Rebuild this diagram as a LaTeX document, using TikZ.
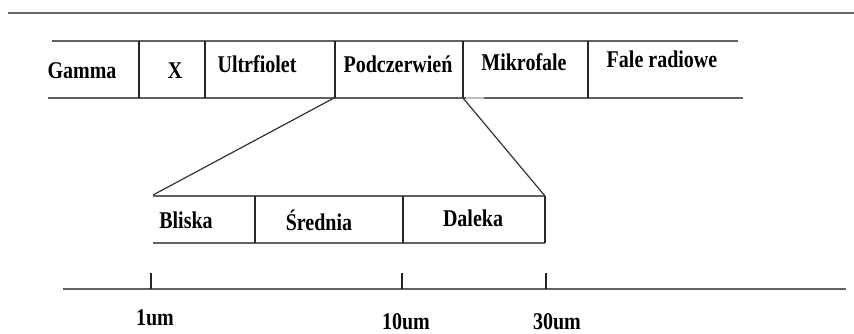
\documentclass[tikz,border=0pt]{standalone}
\usepackage{fontspec}
\usepackage{graphicx}
\setmainfont{Liberation Serif}
\newcommand{\tallt}[1]{\scalebox{1}[1.2]{#1}}
\tikzset{
  lbl/.style={font=\fontsize{20}{24}\selectfont\bfseries, inner sep=0pt, anchor=base},
  rule/.style={draw=black!60, line width=2.2pt},
  hline/.style={draw=black!62, line width=2pt},
  vline/.style={draw=black!85, line width=1.2pt},
  diag/.style={draw=black!80, line width=1.2pt},
}
\begin{document}
\begin{tikzpicture}[x=1pt, y=-1pt]
\useasboundingbox (0,0) rectangle (854,333);
% top rule
\draw[rule] (8,13) -- (854,13);
% upper band
\draw[hline] (52,41) -- (738,41);
\draw[hline] (48,98) -- (466,98);
\draw[draw=black!25, line width=2pt] (466,98) -- (484,98);
\draw[hline] (484,98) -- (743,98);
\foreach \x in {139,205,335,463,588} \draw[vline] (\x,41) -- (\x,98);
% corners for the zoom connectors
\coordinate (pc1) at (334,98);
\coordinate (pc2) at (463,98);
\coordinate (lb1) at (153,195);
\coordinate (lb2) at (545,196);
% lower band
\draw[hline] (153,196) -- (545,196);
\draw[hline] (153,243) -- (545,243);
\foreach \x in {255,403,545} \draw[vline] (\x,196) -- (\x,243);
\draw[diag] (pc1) -- (lb1);
\draw[diag] (pc2) -- (lb2);
% axis
\draw[hline] (63,289) -- (846,289);
\foreach \x in {151,402,546} \draw[vline] (\x,273) -- (\x,289);
% labels
\node[lbl] (gamma) at (82,78) {\tallt{Gamma}};
\node[lbl] (xray) at (175,78) {\tallt{X}};
\node[lbl] (uv) at (257,72) {\tallt{Ultrfiolet}};
\node[lbl] (ir) at (398,72) {\tallt{Podczerwień}};
\node[lbl] (mw) at (524,70) {\tallt{Mikrofale}};
\node[lbl] (radio) at (662,67) {\tallt{Fale radiowe}};
\node[lbl] (near) at (186,228) {\tallt{Bliska}};
\node[lbl] (mid) at (319,230) {\tallt{Średnia}};
\node[lbl] (far) at (473,226) {\tallt{Daleka}};
\node[lbl] (t1) at (155,325) {\tallt{1um}};
\node[lbl] (t10) at (406,329) {\tallt{10um}};
\node[lbl] (t30) at (557,329) {\tallt{30um}};
\end{tikzpicture}
\end{document}
